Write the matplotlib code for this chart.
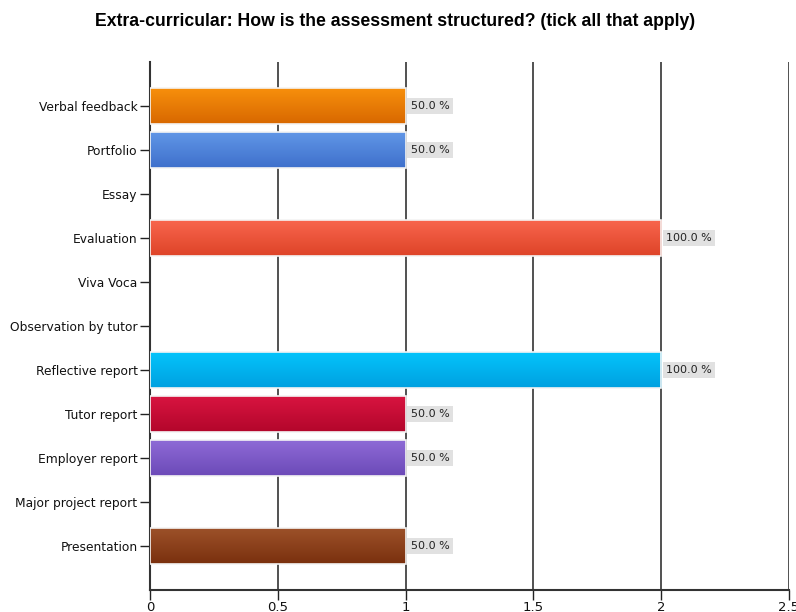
import numpy as np
import matplotlib.pyplot as plt
from matplotlib.colors import LinearSegmentedColormap
from matplotlib.patches import Rectangle

categories = ['Verbal feedback', 'Portfolio', 'Essay', 'Evaluation', 'Viva Voca',
              'Observation by tutor', 'Reflective report', 'Tutor report',
              'Employer report', 'Major project report', 'Presentation']
counts = [1, 1, 0, 2, 0, 0, 2, 1, 1, 0, 1]
respondents = 2
# top / bottom colours of each bar's gradient
top_colors = ['#f78f0c', '#6196e6', '#7fbf3f', '#f8654d', '#f2c500', '#999999',
              '#04c4fb', '#d81440', '#8e6ad6', '#3fa37a', '#9c5129']
bottom_colors = ['#d86800', '#3e70cc', '#5e9a22', '#de4428', '#d4a200', '#777777',
                 '#00a0e0', '#b3062b', '#6c4ab8', '#23805a', '#7a300e']
xticks = [0, 0.5, 1, 1.5, 2, 2.5]

plt.rcParams['font.family'] = ['DejaVu Sans']

fig = plt.figure(figsize=(7.96, 6.12), dpi=100)
ax = fig.add_axes([150 / 796, 1 - 590 / 612, 639 / 796, 528 / 612])

bar_h = 0.8
ys = np.arange(len(categories))
for y, c, top, bot in zip(ys, counts, top_colors, bottom_colors):
    if c <= 0:
        continue
    cmap = LinearSegmentedColormap.from_list('g', [top, bot])
    grad = np.linspace(0, 1, 64).reshape(-1, 1)
    ax.imshow(grad, cmap=cmap, aspect='auto', interpolation='bicubic',
              extent=[0, c, y + bar_h / 2, y - bar_h / 2], zorder=3)
    ax.add_patch(Rectangle((0, y - bar_h / 2), c, bar_h, fill=False,
                           edgecolor='#f4f4f4', lw=1.2, zorder=4))
    ax.text(c + 0.02, y, f'{c / respondents * 100:.1f} %', va='center', ha='left',
            fontsize=8, color='#222222', zorder=5,
            bbox=dict(boxstyle='square,pad=0.3', fc='#e1e1e1', ec='none'))

ax.set_xlim(0, 2.5)
ax.set_ylim(len(categories), -1)
ax.set_xticks(xticks)
ax.set_xticklabels([f'{t:g}' for t in xticks], fontsize=9.5, color='#111111')
ax.set_yticks(ys)
ax.set_yticklabels(categories, fontsize=8.8, color='#111111')
ax.tick_params(axis='y', length=7, width=1, color='#222222', pad=2)
ax.tick_params(axis='x', length=7, width=1, color='#222222', pad=1)
ax.grid(axis='x', color='#333333', lw=1.2, zorder=1)
ax.set_axisbelow(True)
for side in ['top', 'right']:
    ax.spines[side].set_visible(False)
for side in ['left', 'bottom']:
    ax.spines[side].set_color('#333333')
    ax.spines[side].set_linewidth(1.5)

fig.text(395 / 796, 1 - 22 / 612,
         'Extra-curricular: How is the assessment structured? (tick all that apply)',
         ha='center', va='center', fontsize=12.7, fontweight='bold',
         family=['Liberation Sans Narrow', 'Liberation Sans'])

fig.savefig('out.png', dpi=100)
